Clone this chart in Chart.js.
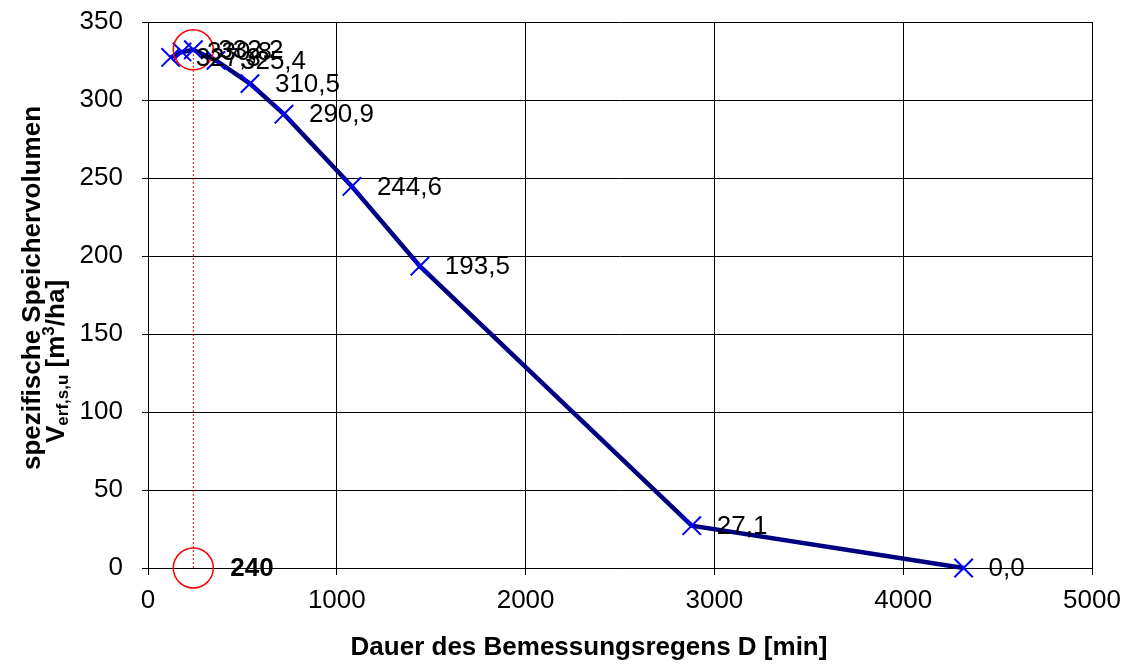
<!DOCTYPE html>
<html>
<head>
<meta charset="utf-8">
<script src="https://cdn.jsdelivr.net/npm/chart.js@4.4.0/dist/chart.umd.min.js"></script>
<style>
  html, body { margin: 0; padding: 0; background: #fff; }
  #chart { display: block; }
</style>
</head>
<body>
<canvas id="chart" width="1130" height="666"></canvas>
<script>
// ── Data ─────────────────────────────────────────────────────
const durations = [120, 180, 240, 360, 540, 720, 1080, 1440, 2880, 4320];
const volumes   = [327.3, 330.8, 332.2, 325.4, 310.5, 290.9, 244.6, 193.5, 27.1, 0.0];

const markedDuration = 240;
const markedVolume   = 332.2;

const xMin = 0, xMax = 5000, xStep = 1000;
const yMin = 0, yMax = 350, yStep = 50;

const xTitle  = "Dauer des Bemessungsregens D [min]";
const yTitle1 = "spezifische Speichervolumen";

const FONT = "'Liberation Sans', Arial, sans-serif";

const fmt = v => v.toFixed(1).replace(".", ",");

// ── Labels + axis titles ─────────────────────────────────────
const labelPlugin = {
  id: "labels",
  afterDatasetsDraw(chart) {
    const ctx = chart.ctx;
    const xs = chart.scales.x, ys = chart.scales.y;

    ctx.save();
    ctx.fillStyle = "#000";
    ctx.textBaseline = "middle";
    ctx.textAlign = "left";
    ctx.font = "26px " + FONT;
    durations.forEach((d, i) => {
      ctx.fillText(fmt(volumes[i]), xs.getPixelForValue(d) + 25, ys.getPixelForValue(volumes[i]) + 1);
    });

    // marked duration label
    ctx.font = "bold 26px " + FONT;
    ctx.fillText(String(markedDuration), xs.getPixelForValue(markedDuration) + 37, ys.getPixelForValue(0) + 1);

    // x title
    ctx.textAlign = "center";
    ctx.fillText(xTitle, 589, 648);

    // y title, two lines rotated
    ctx.translate(33, 288);
    ctx.rotate(-Math.PI / 2);
    ctx.fillText(yTitle1, 0, 0);
    ctx.restore();

    ctx.save();
    ctx.fillStyle = "#000";
    ctx.translate(57, 443);
    ctx.rotate(-Math.PI / 2);
    ctx.textBaseline = "middle";
    ctx.textAlign = "left";
    const parts = [
      { t: "V", size: 26, dy: 0 },
      { t: "erf,s,u", size: 17, dy: 6 },
      { t: " [m", size: 26, dy: 0 },
      { t: "3", size: 17, dy: -8 },
      { t: "/ha]", size: 26, dy: 0 }
    ];
    let x = 0;
    parts.forEach(p => {
      ctx.font = "bold " + p.size + "px " + FONT;
      ctx.fillText(p.t, x, p.dy);
      x += ctx.measureText(p.t).width;
    });
    ctx.restore();
  }
};

// ── Chart ────────────────────────────────────────────────────
const ctx = document.getElementById("chart").getContext("2d");
new Chart(ctx, {
  type: "line",
  data: {
    datasets: [
      {
        label: "Speichervolumen",
        data: durations.map((d, i) => ({ x: d, y: volumes[i] })),
        borderColor: "#000080",
        borderWidth: 4.5,
        pointStyle: "crossRot",
        pointRadius: 13,
        pointBorderColor: "#0000ff",
        pointBorderWidth: 2,
        tension: 0,
        clip: false,
        order: 1
      },
      {
        label: "Markierung",
        data: [{ x: markedDuration, y: 0 }, { x: markedDuration, y: markedVolume }],
        borderColor: "#ff0000",
        borderWidth: 1,
        borderDash: [2, 2],
        pointRadius: 0,
        order: 2
      },
      {
        label: "Kreise",
        data: [{ x: markedDuration, y: markedVolume }, { x: markedDuration, y: 0 }],
        showLine: false,
        pointStyle: "circle",
        pointRadius: 20,
        pointBorderColor: "#ff0000",
        pointBackgroundColor: "rgba(0,0,0,0)",
        pointBorderWidth: 1.5,
        clip: false,
        order: 0
      }
    ]
  },
  options: {
    responsive: false,
    animation: false,
    layout: { padding: { top: 22, right: 38, left: 0, bottom: 0 } },
    plugins: { legend: { display: false }, tooltip: { enabled: false } },
    scales: {
      x: {
        type: "linear",
        min: xMin, max: xMax,
        afterFit: s => { s.height = 98; s.paddingLeft = 0; s.paddingRight = 0; },
        ticks: { stepSize: xStep, color: "#000", font: { size: 26, family: FONT }, padding: 10, maxRotation: 0,
                 callback: v => String(v) },
        grid: { color: "#000", lineWidth: 1, tickLength: 7 },
        border: { color: "#000", width: 1 }
      },
      y: {
        min: yMin, max: yMax,
        afterFit: s => { s.width = 148; s.paddingTop = 0; s.paddingBottom = 0; },
        ticks: { stepSize: yStep, color: "#000", font: { size: 26, family: FONT }, padding: 19,
                 callback: v => String(v) },
        grid: { color: "#000", lineWidth: 1, tickLength: 6 },
        border: { color: "#000", width: 1 }
      }
    }
  },
  plugins: [labelPlugin]
});
</script>
</body>
</html>
